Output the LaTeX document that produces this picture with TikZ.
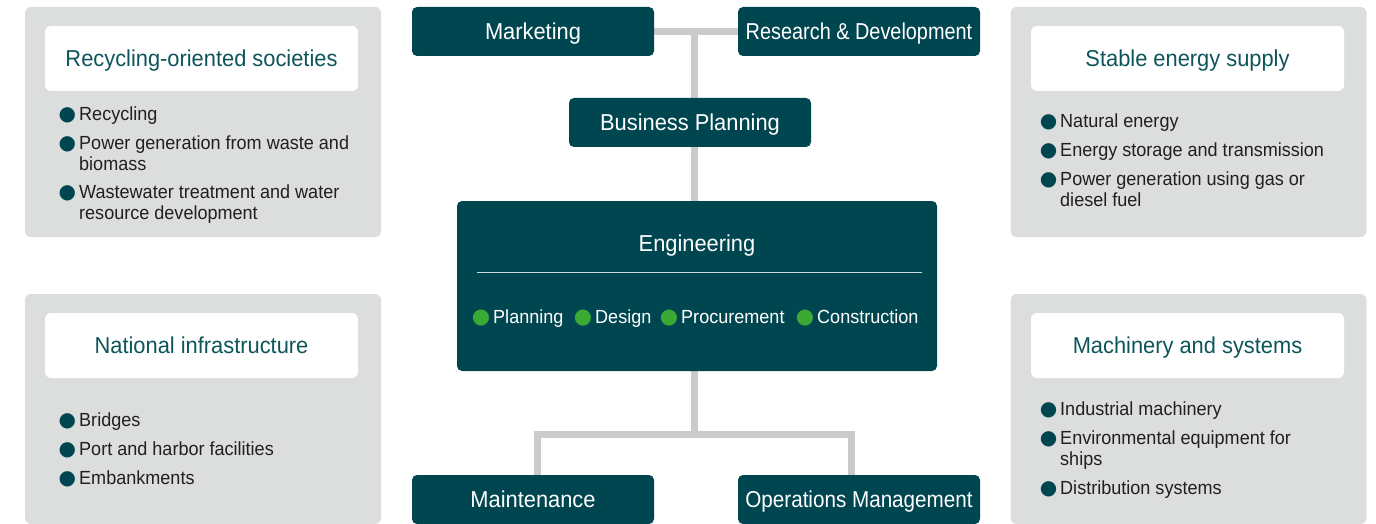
\documentclass[tikz,border=0pt]{standalone}
\usepackage{fontspec}
\usepackage{graphicx}
\setmainfont{Liberation Sans}[FakeStretch=0.95]
\newfontfamily\dotfont{DejaVu Sans}
\usetikzlibrary{backgrounds}
\definecolor{boxteal}{HTML}{004650}
\definecolor{headteal}{HTML}{0E555B}
\definecolor{panelgray}{HTML}{DCDDDD}
\definecolor{linkgray}{HTML}{CACBCB}
\definecolor{dotgreen}{HTML}{3AAA35}
\definecolor{itemtext}{HTML}{231F20}
\newcommand\tealdot{\llap{{\dotfont\color{boxteal}\fontsize{20}{20}\selectfont ●}\hspace{3pt}}}
\newcommand\greendot{\llap{{\dotfont\color{dotgreen}\fontsize{21}{20}\selectfont ●}\hspace{3pt}}}

\begin{document}
\begin{tikzpicture}[x=1pt, y=-1pt,
    unit/.style={fill=boxteal, text=white, rounded corners=5, minimum width=242, minimum height=49, inner sep=0, text depth=0, font=\fontsize{23}{26}\selectfont},
    panel/.style={fill=panelgray, rounded corners=6, minimum width=356, minimum height=230, inner sep=0},
    heading/.style={fill=white, rounded corners=6, minimum width=313, minimum height=65, inner sep=0, text depth=0, text=headteal, font=\fontsize{23}{26}\selectfont},
    item/.style={anchor=north west, align=left, inner sep=0, text=itemtext, font=\fontsize{19}{21}\selectfont},
    phase/.style={anchor=west, inner sep=0, text depth=0, text=white, font=\fontsize{19}{21}\selectfont},
    link/.style={draw=linkgray, line width=7}]
  %tikz  Business domains around engineering
  \useasboundingbox (0,0) rectangle (1376,524);

  % side panels
  \node[panel] (recpanel) at (203,122) {};
  \node[panel] (infpanel) at (203,409) {};
  \node[panel] (engypanel) at (1188.5,122) {};
  \node[panel] (machpanel) at (1188.5,409) {};
  \node[heading] (rechead) at (201.5,58.5) {Recycling-oriented societies};
  \node[heading] (infhead) at (201.5,345.5) {National infrastructure};
  \node[heading] (engyhead) at (1187.5,58.5) {Stable energy supply};
  \node[heading] (machhead) at (1187.5,345.5) {Machinery and systems};

  \node[item] (rec1) at (79,107) {\tealdot Recycling};
  \node[item] (rec2) at (79,136) {\tealdot Power generation from waste and\\biomass};
  \node[item] (rec3) at (79,185) {\tealdot Wastewater treatment and water\\resource development};
  \node[item] (inf1) at (79,413) {\tealdot Bridges};
  \node[item] (inf2) at (79,442) {\tealdot Port and harbor facilities};
  \node[item] (inf3) at (79,471) {\tealdot Embankments};
  \node[item] (engy1) at (1060,114) {\tealdot Natural energy};
  \node[item] (engy2) at (1060,143) {\tealdot Energy storage and transmission};
  \node[item] (engy3) at (1060,172) {\tealdot Power generation using gas or\\diesel fuel};
  \node[item] (mach1) at (1060,402) {\tealdot Industrial machinery};
  \node[item] (mach2) at (1060,431) {\tealdot Environmental equipment for\\ships};
  \node[item] (mach3) at (1060,481) {\tealdot Distribution systems};

  % organisation
  \node[unit] (mkt) at (533,31.5) {Marketing};
  \node[unit] (rnd) at (859,31.5) {\scalebox{0.91}[1]{Research \& Development}};
  \node[unit] (bp) at (690,122.5) {Business Planning};
  \node[unit, minimum width=480, minimum height=170] (eng) at (697,286) {};
  \node[text=white, text depth=0, font=\fontsize{23}{26}\selectfont] (engtitle) at (697,243) {Engineering};
  \draw[white!80!boxteal, line width=0.8] (477,272) -- (922,272);
  \node[phase] (plan) at (493,317) {\greendot Planning};
  \node[phase] (design) at (595,317) {\greendot Design};
  \node[phase] (proc) at (681,317) {\greendot Procurement};
  \node[phase] (constr) at (817,317) {\greendot Construction};
  \node[unit] (mnt) at (533,499.5) {Maintenance};
  \node[unit] (ops) at (859,499.5) {\scalebox{0.945}[1]{Operations Management}};
  \coordinate (fork) at (694,434);

  \begin{scope}[on background layer]
    \draw[link] (mkt) -- (rnd);
    \draw[link] (fork |- bp) -- (fork |- mkt);
    \draw[link] (fork |- bp) -- (fork |- eng.north);
    \draw[link] (eng.south -| fork) -- (fork);
    \draw[link] ([xshift=4]mnt.north) |- (fork) -| ([xshift=-8]ops.north);
  \end{scope}
\end{tikzpicture}
\end{document}
